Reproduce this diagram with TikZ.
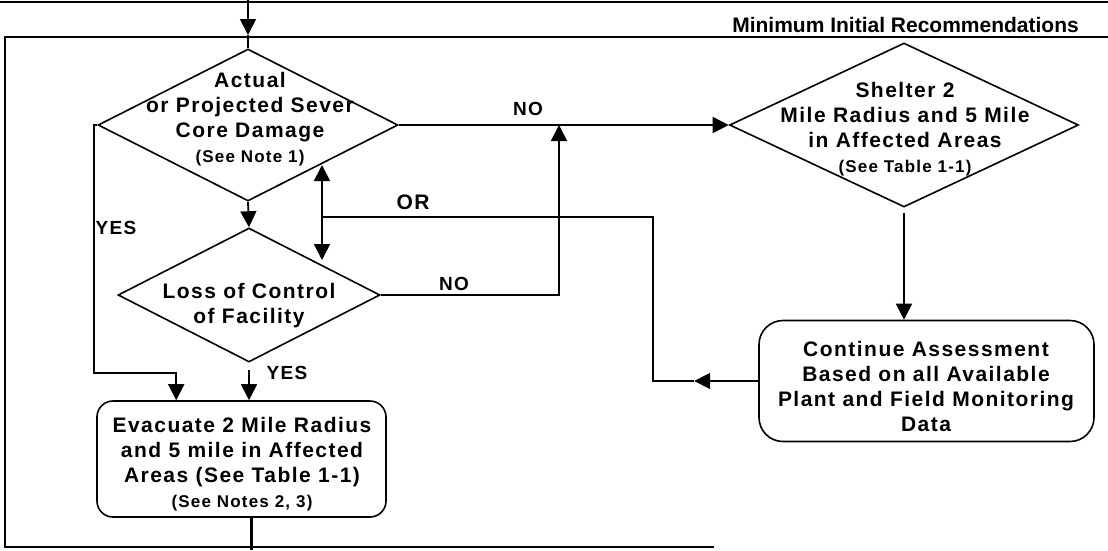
\documentclass[tikz,border=0pt]{standalone}
\usepackage{fontspec}
\setmainfont[LetterSpace=7]{Liberation Sans}
\newfontfamily\hdrfont{Liberation Sans}
\usetikzlibrary{arrows.meta,shapes.geometric}
\newcommand{\mainf}{\fontsize{21}{25}\selectfont\bfseries}
\newcommand{\notef}{\fontsize{17}{20}\selectfont\bfseries}
\newcommand{\labf}{\fontsize{19}{22}\selectfont\bfseries}
\tikzset{
  conn/.style={line width=1.8pt},
  arr/.style={-{Triangle[length=16pt,width=16pt]}},
  dbl/.style={{Triangle[length=16pt,width=16pt]}-{Triangle[length=16pt,width=16pt]}},
  dia/.style={draw, shape=diamond, line width=1.6pt, inner sep=0pt},
  txt/.style={align=center, font=\mainf, inner sep=0pt},
  rbox/.style={draw, line width=1.6pt, inner sep=0pt},
  lab/.style={font=\labf, inner sep=0pt}
}
\begin{document}
\begin{tikzpicture}[x=1pt,y=-1pt]
\useasboundingbox (0,0) rectangle (1108,550);
% frame
\draw[conn] (0,2) -- (1108,2);
\draw[conn] (1108,37) -- (5,37) -- (5,547) -- (714,547);
\node[font=\hdrfont\fontsize{21}{24}\selectfont\bfseries, anchor=east, inner sep=0pt] (hdr) at (1079,25) {Minimum Initial Recommendations};
% decisions
\node[dia, minimum width=300pt, minimum height=152pt] (d1) at (248,125) {};
\node[txt] (d1t) at (250,119) {Actual\\or Projected Sever\\Core Damage\\{\notef (See Note 1)}};
\node[dia, minimum width=262pt, minimum height=134pt] (d2) at (249,295) {};
\node[txt] (d2t) at (249,306) {Loss of Control\\of Facility};
\node[dia, minimum width=349pt, minimum height=164pt] (d3) at (904,125) {};
\node[txt] (d3t) at (905,129) {Shelter 2\\Mile Radius and 5 Mile\\in Affected Areas\\{\notef (See Table 1-1)}};
% boxes
\node[rbox, rounded corners=16pt, minimum width=289pt, minimum height=116pt] (ev) at (241.5,459) {};
\node[txt] (evt) at (242,464) {Evacuate 2 Mile Radius\\and 5 mile in Affected\\Areas (See Table 1-1)\\{\notef (See Notes 2, 3)}};
\node[rbox, rounded corners=24pt, minimum width=335pt, minimum height=121pt] (cont) at (926.5,381) {};
\node[txt] (contt) at (926,386) {Continue Assessment\\Based on all Available\\Plant and Field Monitoring\\Data};
% coordinates
\coordinate (in) at (248,0);
\coordinate (bt) at (248,35);
\coordinate (j) at (559,125);
\coordinate (yl) at (94,373);
\path (cont.west) ++(-64,0) coordinate (m1) ++(-41,0) coordinate (c1);
\coordinate (orj) at (322,217);
\coordinate (da1) at (322,165);
\coordinate (da2) at (322,260);
\coordinate (out) at (251,550);
% connectors
\draw[conn,arr] (in) -- (bt);
\draw[conn] (bt) -- (d1.north);
\draw[conn,arr] (d1.south) -- (d2.north);
\draw[conn,arr] (d1.east) -- (d3.west);
\draw[conn,arr] (d2.east) -| (j);
\draw[conn,arr] (d1.west) -- (d1.west -| yl) -- (yl) -| ([xshift=80pt]ev.north west);
\draw[conn,arr] ([yshift=-7pt]d2.south) -- (d2.south |- ev.north);
\draw[conn,arr] ([yshift=-5pt]d3.south) -- (d3.south |- cont.north);
\draw[conn,arr] (cont.west) -- (m1);
\draw[conn] (m1) -- (c1) |- (orj);
\draw[conn,dbl] (da1) -- (da2);
\draw[line width=3pt] (ev.south -| out) -- (out);
% labels
\node[lab] (no1) at (528,109) {NO};
\node[lab] (no2) at (454,284) {NO};
\node[lab] (yes1) at (116,228) {YES};
\node[lab] (yes2) at (287,373) {YES};
\node[font=\fontsize{21}{24}\selectfont\bfseries, inner sep=0pt] (or) at (413,202) {OR};
\end{tikzpicture}
\end{document}
